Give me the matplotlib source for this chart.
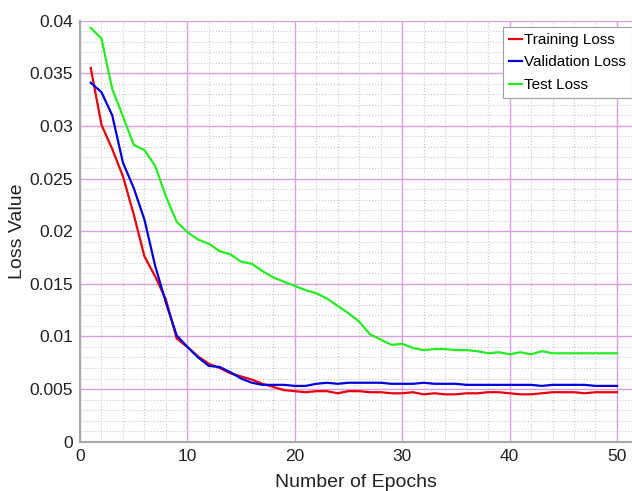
import matplotlib
matplotlib.use('Agg')
import matplotlib.pyplot as plt
import numpy as np
from matplotlib.ticker import MultipleLocator

plt.rcParams['font.family'] = ['Liberation Sans', 'DejaVu Sans']

epochs = list(range(1, 51))
training_loss = [0.0355, 0.0301, 0.0278, 0.0252, 0.0216, 0.0176, 0.0157, 0.0135, 0.0098, 0.0090,
                 0.0081, 0.0074, 0.0070, 0.0065, 0.0062, 0.0059, 0.0055, 0.0052, 0.0049, 0.0048,
                 0.0047, 0.0048, 0.0048, 0.0046, 0.0048, 0.0048, 0.0047, 0.0047, 0.0046, 0.0046,
                 0.0047, 0.0045, 0.0046, 0.0045, 0.0045, 0.0046, 0.0046, 0.0047, 0.0047, 0.0046,
                 0.0045, 0.0045, 0.0046, 0.0047, 0.0047, 0.0047, 0.0046, 0.0047, 0.0047, 0.0047]
validation_loss = [0.0341, 0.0332, 0.0310, 0.0265, 0.0241, 0.0211, 0.0167, 0.0132, 0.0101, 0.0090,
                   0.0080, 0.0072, 0.0071, 0.0066, 0.0060, 0.0056, 0.0054, 0.0054, 0.0054, 0.0053,
                   0.0053, 0.0055, 0.0056, 0.0055, 0.0056, 0.0056, 0.0056, 0.0056, 0.0055, 0.0055,
                   0.0055, 0.0056, 0.0055, 0.0055, 0.0055, 0.0054, 0.0054, 0.0054, 0.0054, 0.0054,
                   0.0054, 0.0054, 0.0053, 0.0054, 0.0054, 0.0054, 0.0054, 0.0053, 0.0053, 0.0053]
test_loss = [0.0393, 0.0383, 0.0335, 0.0309, 0.0282, 0.0277, 0.0262, 0.0233, 0.0209, 0.0199,
             0.0192, 0.0188, 0.0181, 0.0178, 0.0171, 0.0169, 0.0162, 0.0156, 0.0152, 0.0148,
             0.0144, 0.0141, 0.0136, 0.0129, 0.0122, 0.0114, 0.0102, 0.0097, 0.0092, 0.0093,
             0.0089, 0.0087, 0.0088, 0.0088, 0.0087, 0.0087, 0.0086, 0.0084, 0.0085, 0.0083,
             0.0085, 0.0083, 0.0086, 0.0084, 0.0084, 0.0084, 0.0084, 0.0084, 0.0084, 0.0084]

fig = plt.figure(figsize=(6.32, 4.91), dpi=100)
ax = fig.add_axes([0.1266, 0.1004, 0.8734, 0.8576])

ax.plot(epochs, training_loss, color='#e8000b', lw=1.6, label='Training Loss')
ax.plot(epochs, validation_loss, color='#0000dd', lw=1.6, label='Validation Loss')
ax.plot(epochs, test_loss, color='#22ee22', lw=1.6, label='Test Loss')

ax.set_xlim(0, 51.4)
ax.set_ylim(0, 0.04)
ax.xaxis.set_major_locator(MultipleLocator(10))
ax.xaxis.set_minor_locator(MultipleLocator(2))
ax.yaxis.set_major_locator(MultipleLocator(0.005))
ax.yaxis.set_minor_locator(MultipleLocator(0.001))
ax.set_yticks([0, 0.005, 0.01, 0.015, 0.02, 0.025, 0.03, 0.035, 0.04])
ax.set_yticklabels(['0', '0.005', '0.01', '0.015', '0.02', '0.025', '0.03', '0.035', '0.04'])

ax.grid(which='minor', color='#c8c8c8', linestyle=':', lw=0.8)
ax.grid(which='major', color='#d8a0e0', linestyle='-', lw=1.0)
ax.set_axisbelow(True)

for s in ['top', 'right']:
    ax.spines[s].set_visible(False)
for s in ['left', 'bottom']:
    ax.spines[s].set_color('#a8a8a8')
    ax.spines[s].set_linewidth(1.5)

ax.tick_params(which='both', length=0, labelsize=12.5, colors='#222222')
ax.tick_params(axis='y', pad=5)
ax.tick_params(axis='x', pad=5)
ax.set_xlabel('Number of Epochs', fontsize=14, color='#222222', labelpad=7.5)
ax.set_ylabel('Loss Value', fontsize=14, color='#222222')
ax.yaxis.set_label_coords(-0.098, 0.5)

leg = ax.legend(loc='upper right', bbox_to_anchor=(1.0, 0.985), fontsize=11, frameon=True,
                fancybox=False, framealpha=1, edgecolor='#a0a0a0', handlelength=0.9,
                handletextpad=0.1, borderpad=0.4, labelspacing=0.55, borderaxespad=0)
leg.get_frame().set_linewidth(0.8)

fig.savefig('out.png', dpi=100)
